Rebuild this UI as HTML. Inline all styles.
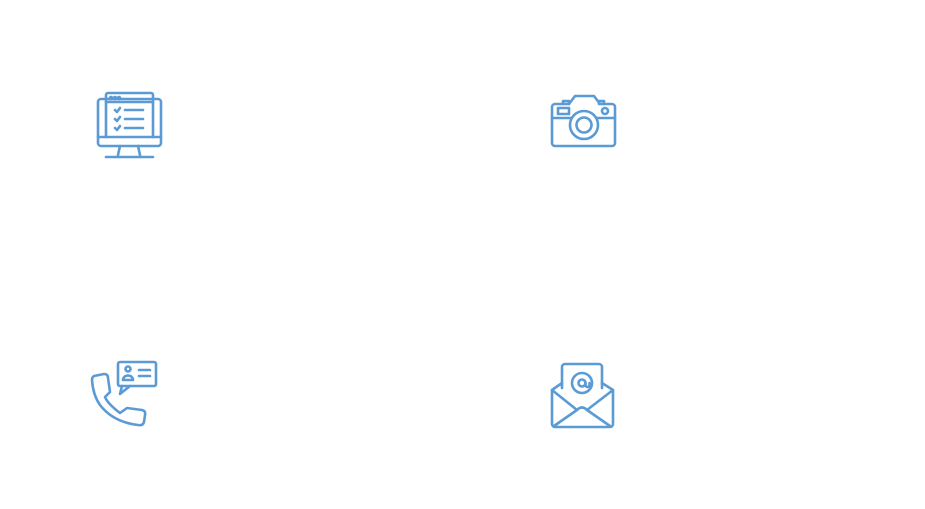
<!DOCTYPE html>
<html><head><style>html,body{margin:0;padding:0;background:#fff;width:925px;height:509px;overflow:hidden}</style></head>
<body>
<svg width="925" height="509" viewBox="0 0 925 509" xmlns="http://www.w3.org/2000/svg" fill="none" stroke="#5b9bd5" stroke-width="2.6" stroke-linecap="round" stroke-linejoin="round">
<!-- monitor -->
<rect x="98" y="99" width="63" height="47" rx="3"/>
<line x1="98" y1="137" x2="161" y2="137"/>
<path d="M106 137 V95 a2 2 0 0 1 2 -2 H151 a2 2 0 0 1 2 2 V137"/>
<line x1="106" y1="102" x2="153" y2="102"/>
<circle cx="111" cy="98" r="1" fill="#5b9bd5"/><circle cx="115" cy="98" r="1" fill="#5b9bd5"/><circle cx="119" cy="98" r="1" fill="#5b9bd5"/>
<path d="M115 110 l2 2 l3 -4 M115 119 l2 2 l3 -4 M115 128 l2 2 l3 -4"/>
<line x1="125" y1="110" x2="143" y2="110"/><line x1="125" y1="119" x2="143" y2="119"/><line x1="125" y1="128" x2="143" y2="128"/>
<path d="M120 146 L118 155 M138 146 L140 155"/>
<line x1="106" y1="157" x2="153" y2="157"/>
<!-- camera -->
<path d="M555 104 H569 L575 96 H594 L600 104 H612 a3 3 0 0 1 3 3 V143 a3 3 0 0 1 -3 3 H555 a3 3 0 0 1 -3 -3 V107 a3 3 0 0 1 3 -3 Z"/>
<path d="M563 104 V101 H569 V104 M599 104 V101 H604 V104"/>
<rect x="558" y="108" width="11" height="6"/>
<circle cx="605" cy="111" r="3"/>
<line x1="552" y1="118" x2="571" y2="118"/><line x1="597" y1="118" x2="615" y2="118"/>
<circle cx="584" cy="125" r="14"/>
<circle cx="584" cy="125" r="7.5"/>
<!-- phone -->
<path d="M94 376 L104 374 Q108 374 108 378 L110 392 L105 397 Q108 404 120 413 L127 408 L142 410 Q146 411 145 415 L144 422 Q143 426 138 425 Q113 422 100 405 Q93 395 92 380 Q92 377 94 376 Z"/>
<rect x="118" y="362" width="38" height="24" rx="2"/>
<path d="M122 386 L120 394 L130 386"/>
<circle cx="128" cy="369" r="2.5"/>
<path d="M123 380 a5 4.5 0 0 1 10 0 Z"/>
<line x1="139" y1="370" x2="150" y2="370"/><line x1="139" y1="376" x2="150" y2="376"/>
<!-- envelope -->
<path d="M562 388 V367 a3 3 0 0 1 3 -3 H599 a3 3 0 0 1 3 3 V388"/>
<path d="M562 383 L552 390 V424 a3 3 0 0 0 3 3 H610 a3 3 0 0 0 3 -3 V390 L602 383"/>
<path d="M552 390 L577 410 Q582 405 587 410 L613 390"/>
<path d="M554 426 L577 410 M610 426 L587 410"/>
<circle cx="582" cy="383" r="10"/>
<circle cx="582" cy="383" r="3.5"/>
<path d="M585.5 383 V385 a2 2 0 0 0 4 0 V383"/>
</svg>
</body></html>
